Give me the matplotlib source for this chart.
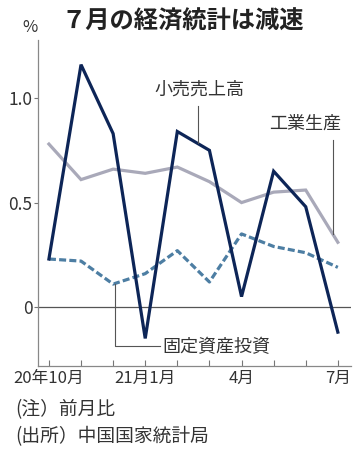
import matplotlib
matplotlib.use("Agg")
import matplotlib.pyplot as plt

plt.rcParams['font.family'] = ['Noto Sans CJK JP', 'DejaVu Sans']

months = ["20年10月", "11月", "12月", "21月1月", "2月", "3月", "4月", "5月", "6月", "7月"]
tick_labels = ["20年10月", "", "", "21月1月", "", "", "4月", "", "", "7月"]
retail = [0.23, 1.16, 0.83, -0.15, 0.84, 0.75, 0.05, 0.65, 0.48, -0.12]
industrial = [0.78, 0.61, 0.66, 0.64, 0.67, 0.60, 0.50, 0.55, 0.56, 0.31]
fixed_invest = [0.23, 0.22, 0.11, 0.16, 0.27, 0.12, 0.35, 0.29, 0.26, 0.19]

W, H = 361, 458
fig = plt.figure(figsize=(W / 100, H / 100), dpi=100)
ax = fig.add_axes([38 / W, 1 - 366 / H, 313 / W, 326 / H])

x = list(range(len(months)))
txt = '#333333'
ax.plot(x, industrial, color='#a9a9b9', lw=2.3, solid_joinstyle='miter', zorder=3)
ax.plot(x, fixed_invest, color='#4d7ea3', lw=2.3, ls=(0, (2.2, 1.0)), zorder=3)
ax.plot(x, retail, color='#0d2557', lw=2.3, solid_joinstyle='miter', zorder=4)

ax.axhline(0, color='#555555', lw=0.9, zorder=1)

ax.set_xlim(-0.34, 9.41)
ax.set_ylim(-0.282, 1.278)

for s in ['top', 'right']:
    ax.spines[s].set_visible(False)
for s in ['left', 'bottom']:
    ax.spines[s].set_color('#888888')
    ax.spines[s].set_linewidth(0.9)

ax.set_xticks(x)
ax.set_xticklabels(tick_labels)
ax.tick_params(axis='x', direction='in', length=4, width=0.8, color='#777777',
               labelsize=12, labelcolor=txt, pad=3)
ax.set_yticks([0, 0.5, 1.0])
ax.set_yticklabels(["0", "0.5", "1.0"])
ax.tick_params(axis='y', direction='out', length=3, width=0.8, color='#777777',
               labelsize=12.5, labelcolor=txt, pad=1)

# annotations
lc = '#555555'
ax.text(4.70, 1.04, "小売売上高", ha='center', va='center', fontsize=13, color=txt)
ax.plot([4.64, 4.64], [0.96, 0.785], color=lc, lw=0.8, zorder=5)

ax.text(7.98, 0.876, "工業生産", ha='center', va='center', fontsize=13, color=txt)
ax.plot([8.85, 8.85], [0.80, 0.35], color=lc, lw=0.8, zorder=5)

ax.text(5.23, -0.19, "固定資産投資", ha='center', va='center', fontsize=13, color=txt)
ax.plot([2.06, 2.06, 3.46], [0.11, -0.187, -0.187], color=lc, lw=0.8, zorder=5)

fig.text(0.505, 1 - 22 / H, "７月の経済統計は減速", ha='center', va='center',
         fontsize=17.5, fontweight='bold', color='#222222')
fig.text(30 / W, 1 - 28 / H, "%", ha='center', va='center', fontsize=12, color=txt)
fig.text(15 / W, 1 - 410 / H, "(注）前月比", ha='left', va='center', fontsize=13.5, color=txt)
fig.text(15 / W, 1 - 437 / H, "(出所）中国国家統計局", ha='left', va='center', fontsize=13.5, color=txt)

fig.savefig("out.png", dpi=100)
